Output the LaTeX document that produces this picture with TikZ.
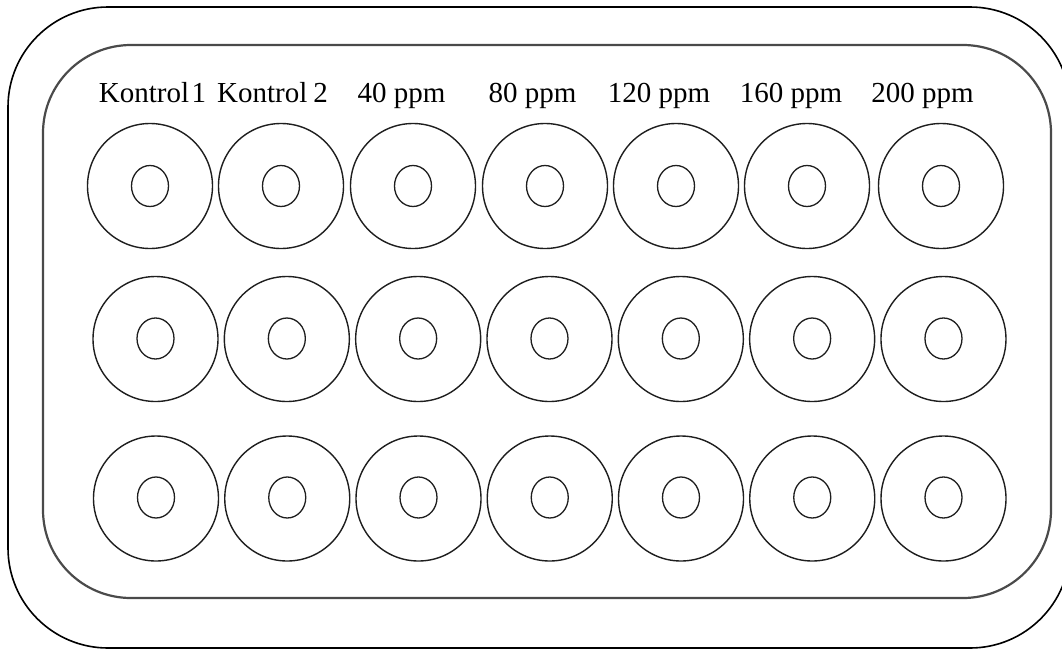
\documentclass[tikz,border=0pt]{standalone}
\usepackage{fontspec}
\setmainfont{Liberation Serif}
\usetikzlibrary{shapes.geometric}
\definecolor{frame}{HTML}{4A4A4A}
\definecolor{ink}{HTML}{1E1E1E}
\tikzset{
  dish/.style={draw=ink, line width=1.4pt, circle, minimum size=125pt, inner sep=0pt},
  well/.style={draw=ink, line width=1.3pt, ellipse, minimum width=37pt, minimum height=41pt, inner sep=0pt},
  lbl/.style={anchor=base, inner sep=0pt, font=\fontsize{29}{31}\selectfont, text=black},
}
\begin{document}
\begin{tikzpicture}[x=1pt,y=-1pt]
\useasboundingbox (0,0) rectangle (1062,651);
\fill[white] (0,0) rectangle (1062,651);
\begin{scope}
\clip (0,0) rectangle (1062,651);
\draw[black, line width=1.6pt, rounded corners=100pt] (8,7) rectangle (1070,648);
\end{scope}
\draw[frame, line width=2.2pt, rounded corners=88pt] (43,45) rectangle (1051,598);
% labels
\node[lbl] (l1) at (152.5,102) {Kontrol\kern2.5pt1};
\node[lbl] (l2) at (272.5,102) {Kontrol\kern6pt2};
\node[lbl] (l3) at (401.5,102) {40 ppm};
\node[lbl] (l4) at (532.5,102) {80 ppm};
\node[lbl] (l5) at (659,102) {120 ppm};
\node[lbl] (l6) at (791,102) {160 ppm};
\node[lbl] (l7) at (922.5,102) {200 ppm};
% row 1
\foreach \i/\x in {1/150,2/281,3/413,4/545,5/676,6/807,7/941}{
  \node[dish] (a\i) at (\x,186) {};
  \node[well] (aw\i) at (\x,186) {};
}
% row 2
\foreach \i in {1,...,7}{
  \pgfmathsetmacro{\xx}{155.5+(\i-1)*131.33}
  \node[dish] (b\i) at (\xx,339) {};
  \node[well] (bw\i) at (\xx,338.5) {};
}
% row 3
\foreach \i in {1,...,7}{
  \pgfmathsetmacro{\xx}{156+(\i-1)*131.25}
  \node[dish] (c\i) at (\xx,498.5) {};
  \node[well] (cw\i) at (\xx,497.5) {};
}
\end{tikzpicture}
\end{document}
